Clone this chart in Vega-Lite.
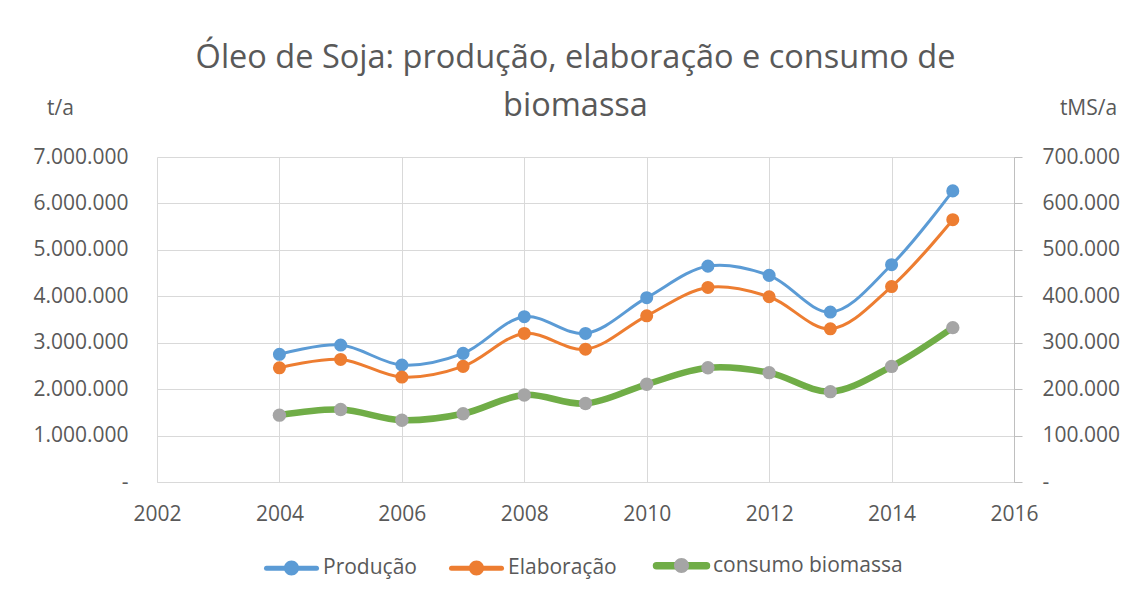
{
  "$schema": "https://vega.github.io/schema/vega-lite/v6.json",
  "width": 857,
  "height": 325,
  "autosize": "none",
  "padding": {"left": 157, "top": 157, "right": 114, "bottom": 116},
  "background": "white",
  "config": {
    "view": {"stroke": null},
    "font": "Open Sans",
    "axis": {"labelFont": "Open Sans", "labelFontSize": 21, "labelColor": "#595959", "titleFont": "Open Sans", "titleFontSize": 21, "titleFontWeight": "normal", "titleColor": "#595959"},
    "legend": {"labelFont": "Open Sans", "labelFontSize": 21, "labelColor": "#595959", "labelLimit": 400}
  },
  "title": {
    "text": ["Óleo de Soja: produção, elaboração e consumo de", "biomassa"],
    "anchor": "middle",
    "frame": "group",
    "font": "Open Sans",
    "fontSize": 32.5,
    "fontWeight": "normal",
    "color": "#595959",
    "lineHeight": 48,
    "dx": -10,
    "dy": 55,
    "offset": 30
  },
  "data": {
    "values": [
      {"ano": 2004, "serie": "Produção", "valor": 2750000},
      {"ano": 2005, "serie": "Produção", "valor": 2950000},
      {"ano": 2006, "serie": "Produção", "valor": 2520000},
      {"ano": 2007, "serie": "Produção", "valor": 2770000},
      {"ano": 2008, "serie": "Produção", "valor": 3560000},
      {"ano": 2009, "serie": "Produção", "valor": 3200000},
      {"ano": 2010, "serie": "Produção", "valor": 3970000},
      {"ano": 2011, "serie": "Produção", "valor": 4650000},
      {"ano": 2012, "serie": "Produção", "valor": 4450000},
      {"ano": 2013, "serie": "Produção", "valor": 3660000},
      {"ano": 2014, "serie": "Produção", "valor": 4680000},
      {"ano": 2015, "serie": "Produção", "valor": 6270000},
      {"ano": 2004, "serie": "Elaboração", "valor": 2460000},
      {"ano": 2005, "serie": "Elaboração", "valor": 2640000},
      {"ano": 2006, "serie": "Elaboração", "valor": 2260000},
      {"ano": 2007, "serie": "Elaboração", "valor": 2490000},
      {"ano": 2008, "serie": "Elaboração", "valor": 3200000},
      {"ano": 2009, "serie": "Elaboração", "valor": 2860000},
      {"ano": 2010, "serie": "Elaboração", "valor": 3580000},
      {"ano": 2011, "serie": "Elaboração", "valor": 4190000},
      {"ano": 2012, "serie": "Elaboração", "valor": 3990000},
      {"ano": 2013, "serie": "Elaboração", "valor": 3300000},
      {"ano": 2014, "serie": "Elaboração", "valor": 4210000},
      {"ano": 2015, "serie": "Elaboração", "valor": 5650000},
      {"ano": 2004, "serie": "consumo biomassa", "valor": 144000},
      {"ano": 2005, "serie": "consumo biomassa", "valor": 156000},
      {"ano": 2006, "serie": "consumo biomassa", "valor": 133000},
      {"ano": 2007, "serie": "consumo biomassa", "valor": 147000},
      {"ano": 2008, "serie": "consumo biomassa", "valor": 187500},
      {"ano": 2009, "serie": "consumo biomassa", "valor": 169000},
      {"ano": 2010, "serie": "consumo biomassa", "valor": 210500},
      {"ano": 2011, "serie": "consumo biomassa", "valor": 246000},
      {"ano": 2012, "serie": "consumo biomassa", "valor": 235500},
      {"ano": 2013, "serie": "consumo biomassa", "valor": 194600},
      {"ano": 2014, "serie": "consumo biomassa", "valor": 249000},
      {"ano": 2015, "serie": "consumo biomassa", "valor": 332500}
    ]
  },
  "encoding": {
    "x": {
      "field": "ano", "type": "quantitative",
      "scale": {"domain": [2002, 2016], "nice": false, "zero": false},
      "axis": {"title": null, "values": [2002, 2004, 2006, 2008, 2010, 2012, 2014, 2016], "format": "d", "grid": true, "gridColor": "#D9D9D9", "gridWidth": 1, "domainColor": "#D9D9D9", "ticks": false, "labelPadding": 21, "labelFlush": false}
    }
  },
  "layer": [
    {
      "transform": [{"filter": "datum.serie != 'consumo biomassa'"}],
      "mark": {"type": "line", "interpolate": "catmull-rom", "strokeWidth": 3},
      "encoding": {
        "y": {"field": "valor", "type": "quantitative", "scale": {"domain": [0, 7000000], "nice": false},
          "axis": {"orient": "left", "values": [0, 1000000, 2000000, 3000000, 4000000, 5000000, 6000000, 7000000], "labelExpr": "datum.value == 0 ? '-\u2003\u2003' : replace(format(datum.value, ','), regexp(',', 'g'), '.')", "grid": true, "gridColor": "#D9D9D9", "gridWidth": 1, "domain": false, "ticks": false, "labelPadding": 29, "title": "t/a", "titleAngle": 0, "titleAlign": "center", "titleBaseline": "middle", "titleX": -97, "titleY": -49}},
        "color": {"field": "serie", "type": "nominal",
          "scale": {"domain": ["Produção", "Elaboração", "consumo biomassa"], "range": ["#5B9BD5", "#ED7D31", "#70AD47"]},
          "legend": {"title": null, "orient": "none", "direction": "horizontal", "legendX": 107, "legendY": 381, "symbolType": "M-1,0L1,0", "symbolSize": 2500, "labelOffset": 4, "columnPadding": 24,
            "encode": {"symbols": {"update": {"strokeWidth": {"signal": "(datum.value == 'consumo biomassa' ? 7.5 : 5)"}, "strokeCap": {"value": "round"}}}}}}
      }
    },
    {
      "transform": [{"filter": "datum.serie == 'consumo biomassa'"}],
      "mark": {"type": "line", "interpolate": "catmull-rom", "strokeWidth": 6.5},
      "encoding": {
        "y": {"field": "valor", "type": "quantitative", "scale": {"domain": [0, 700000], "nice": false},
          "axis": {"orient": "right", "values": [0, 100000, 200000, 300000, 400000, 500000, 600000, 700000], "labelExpr": "datum.value == 0 ? '-' : replace(format(datum.value, ','), regexp(',', 'g'), '.')", "grid": false, "domain": true, "domainColor": "#BFBFBF", "ticks": true, "tickSize": 8, "tickColor": "#BFBFBF", "labelPadding": 20, "title": "tMS/a", "titleAngle": 0, "titleAlign": "center", "titleBaseline": "middle", "titleX": 74, "titleY": -49}},
        "color": {"field": "serie", "type": "nominal"}
      }
    },
    {
      "transform": [{"filter": "datum.serie != 'consumo biomassa'"}],
      "mark": {"type": "point", "filled": true, "opacity": 1, "size": 170, "strokeWidth": 0},
      "encoding": {
        "y": {"field": "valor", "type": "quantitative", "scale": {"domain": [0, 7000000], "nice": false}, "axis": null},
        "fill": {"field": "serie", "type": "nominal", "sort": ["Produção", "Elaboração", "consumo biomassa"],
          "scale": {"range": ["#5B9BD5", "#ED7D31", "#A5A5A5"]},
          "legend": {"title": null, "orient": "none", "direction": "horizontal", "legendX": 107, "legendY": 381, "symbolType": "M-1,0L1,0M0.3,0A0.3,0.3,0,1,1,-0.3,0A0.3,0.3,0,1,1,0.3,0Z", "symbolSize": 2500, "symbolOpacity": 1, "labelOffset": 4, "columnPadding": 24, "labelOpacity": 0,
            "encode": {"symbols": {"update": {"strokeWidth": {"signal": "(datum.value == 'consumo biomassa' ? 7.5 : 5)"}, "stroke": {"value": "transparent"}}}}}}
      }
    },
    {
      "transform": [{"filter": "datum.serie == 'consumo biomassa'"}],
      "mark": {"type": "point", "filled": true, "opacity": 1, "size": 180, "strokeWidth": 0},
      "encoding": {
        "y": {"field": "valor", "type": "quantitative", "scale": {"domain": [0, 700000], "nice": false}, "axis": null},
        "fill": {"field": "serie", "type": "nominal", "sort": ["Produção", "Elaboração", "consumo biomassa"]}
      }
    }
  ],
  "resolve": {"scale": {"y": "independent"}}
}
